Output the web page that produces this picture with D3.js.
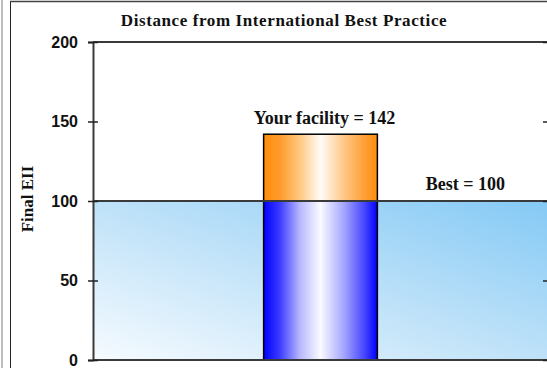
<!DOCTYPE html>
<html>
<head>
<meta charset="utf-8">
<script src="https://cdn.jsdelivr.net/npm/d3@7"></script>
<style>
  html, body { margin: 0; padding: 0; background: #fff; overflow: hidden; }
  svg { display: block; }
</style>
</head>
<body>
<svg id="chart" width="547" height="368"></svg>
<script>
// Chart data
const categories = ["Your facility"];
const facilityValues = [142];
const bestValues = [100];
const yTicks = [0, 50, 100, 150, 200];
const titleText = "Distance from International Best Practice";
const yAxisTitle = "Final EII";

const W = 547, H = 368;
const plot = { left: 93, right: 548, top: 42, bottom: 360 };

const svg = d3.select("#chart");
const defs = svg.append("defs");

const y = d3.scaleLinear().domain([0, 200]).range([plot.bottom, plot.top]);
const x = d3.scaleBand().domain(categories).range([plot.left, plot.right]).padding(0.6);

// Gradients
const bgGrad = defs.append("linearGradient").attr("id", "bgGrad")
  .attr("x1", "0%").attr("y1", "100%").attr("x2", "100%").attr("y2", "0%");
bgGrad.append("stop").attr("offset", "0%").attr("stop-color", "#f6fbff");
bgGrad.append("stop").attr("offset", "45%").attr("stop-color", "#c4e4f9");
bgGrad.append("stop").attr("offset", "100%").attr("stop-color", "#84c9f5");

const blueGrad = defs.append("linearGradient").attr("id", "blueGrad")
  .attr("x1", "0%").attr("y1", "0%").attr("x2", "100%").attr("y2", "0%");
[[0, "#0000ff"], [0.14, "#3a3aff"], [0.32, "#b8b8ff"], [0.5, "#fafaff"], [0.7, "#a8a8ff"], [0.88, "#4a4aff"], [1, "#0000ff"]]
  .forEach(([o, c]) => blueGrad.append("stop").attr("offset", o).attr("stop-color", c));

const orangeGrad = defs.append("linearGradient").attr("id", "orangeGrad")
  .attr("x1", "0%").attr("y1", "0%").attr("x2", "100%").attr("y2", "0%");
[[0, "#ff8e0c"], [0.14, "#ff9a2a"], [0.32, "#ffc880"], [0.5, "#fffdf8"], [0.7, "#ffc98a"], [0.88, "#ffa038"], [1, "#ff8e0c"]]
  .forEach(([o, c]) => orangeGrad.append("stop").attr("offset", o).attr("stop-color", c));

// Outer frame
svg.append("line").attr("x1", 2).attr("x2", 2).attr("y1", 0).attr("y2", H)
  .attr("stroke", "#a8a8a8").attr("stroke-width", 1.5);
svg.append("line").attr("x1", 10.5).attr("x2", 10.5).attr("y1", 1).attr("y2", H)
  .attr("stroke", "#222").attr("stroke-width", 1);
svg.append("line").attr("x1", 10).attr("x2", W).attr("y1", 1.5).attr("y2", 1.5)
  .attr("stroke", "#444").attr("stroke-width", 1.5);

// Best-practice band (0 to best)
svg.append("rect")
  .attr("x", plot.left).attr("y", y(bestValues[0]))
  .attr("width", plot.right - plot.left).attr("height", y(0) - y(bestValues[0]))
  .attr("fill", "url(#bgGrad)");

// Bars: portion up to best (blue) and excess above best (orange)
const bars = svg.append("g");
categories.forEach((c, i) => {
  const v = facilityValues[i], b = bestValues[i];
  bars.append("rect")
    .attr("x", x(c)).attr("y", y(Math.min(v, b)))
    .attr("width", x.bandwidth()).attr("height", y(0) - y(Math.min(v, b)))
    .attr("fill", "url(#blueGrad)").attr("stroke", "#000").attr("stroke-width", 1.5);
  if (v > b) {
    bars.append("rect")
      .attr("x", x(c)).attr("y", y(v))
      .attr("width", x.bandwidth()).attr("height", y(b) - y(v))
      .attr("fill", "url(#orangeGrad)").attr("stroke", "#000").attr("stroke-width", 1.5);
  }
});

// Horizontal rules at top, best and baseline
[200, bestValues[0], 0].forEach(v => {
  svg.append("line")
    .attr("x1", plot.left).attr("x2", W).attr("y1", y(v)).attr("y2", y(v))
    .attr("stroke", "#3a3a3a").attr("stroke-width", 2);
});

// Left axis
const yAxis = d3.axisLeft(y).tickValues(yTicks).tickSize(5).tickPadding(10).tickFormat(d3.format("d"));
const gy = svg.append("g").attr("transform", `translate(${plot.left},0)`).call(yAxis);
gy.select(".domain").attr("stroke", "#3a3a3a").attr("stroke-width", 2);
gy.selectAll(".tick line").attr("x2", -5).attr("x1", 5).attr("stroke", "#222").attr("stroke-width", 1.5);
gy.selectAll(".tick text")
  .attr("font-family", "'Liberation Sans', Arial, sans-serif")
  .attr("font-weight", "bold").attr("font-size", 16).attr("fill", "#111");

// Right axis (ticks inward)
const yAxisR = d3.axisRight(y).tickValues(yTicks).tickSize(0).tickFormat("");
const gr = svg.append("g").attr("transform", `translate(${plot.right},0)`).call(yAxisR);
gr.select(".domain").attr("stroke", "#3a3a3a").attr("stroke-width", 2);
gr.selectAll(".tick line").attr("x1", -5).attr("x2", 0).attr("stroke", "#222").attr("stroke-width", 1.5);

// Titles
const serif = "'Liberation Serif', 'Times New Roman', serif";
svg.append("text")
  .attr("x", 284).attr("y", 26).attr("text-anchor", "middle")
  .attr("font-family", serif).attr("font-weight", "bold").attr("font-size", 17)
  .attr("letter-spacing", 0.6).attr("fill", "#111")
  .text(titleText);

svg.append("text")
  .attr("transform", `translate(33,199) rotate(-90)`)
  .attr("text-anchor", "middle")
  .attr("font-family", serif).attr("font-weight", "bold").attr("font-size", 17)
  .attr("fill", "#111")
  .text(yAxisTitle);

// Value labels
svg.append("text")
  .attr("x", x(categories[0]) + x.bandwidth() / 2 + 4).attr("y", y(facilityValues[0]) - 10)
  .attr("text-anchor", "middle")
  .attr("font-family", serif).attr("font-weight", "bold").attr("font-size", 18)
  .attr("fill", "#111")
  .text(`Your facility = ${facilityValues[0]}`);

svg.append("text")
  .attr("x", 465.5).attr("y", y(bestValues[0]) - 11)
  .attr("text-anchor", "middle")
  .attr("font-family", serif).attr("font-weight", "bold").attr("font-size", 18)
  .attr("fill", "#111")
  .text(`Best = ${bestValues[0]}`);
</script>
</body>
</html>
